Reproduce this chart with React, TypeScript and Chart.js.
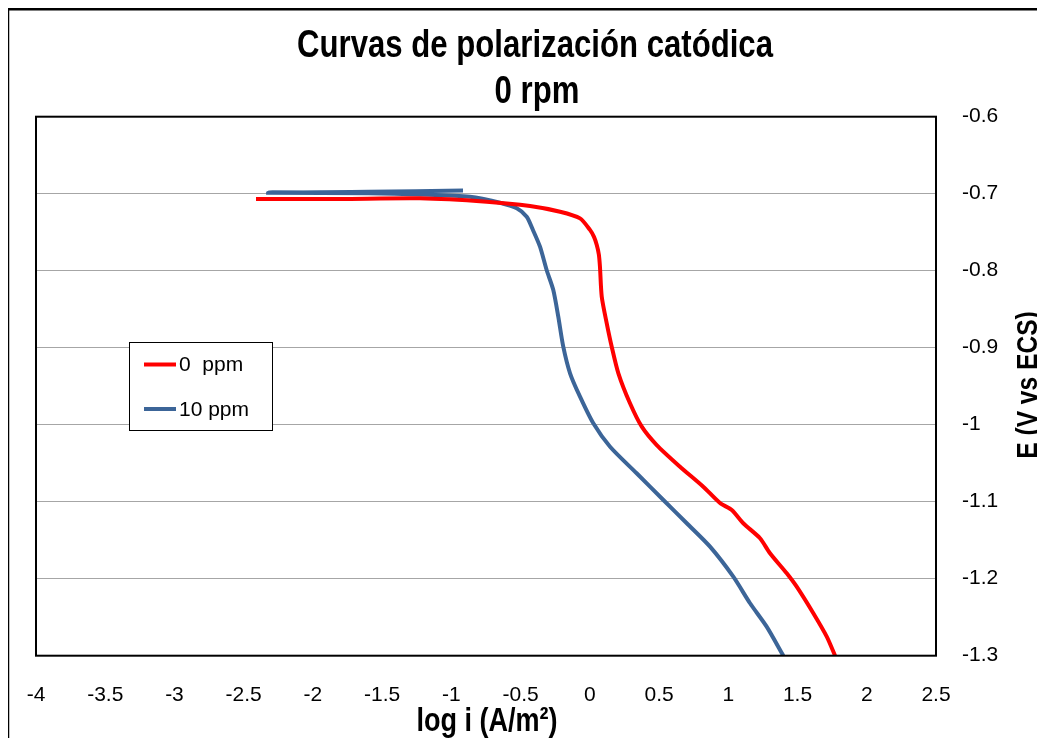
import React, { useEffect, useRef } from "react";
import { Chart, registerables } from "chart.js";

Chart.register(...registerables);

const chartTitle = ["Curvas de polarización catódica", "0 rpm"];
const xAxisTitle = "log i (A/m²)";
const yAxisTitle = "E (V vs ECS)";
const seriesLabels = ["0  ppm", "10 ppm"];
const seriesColors = ["#ff0000", "#3c6598"];

const xTickValues = [-4, -3.5, -3, -2.5, -2, -1.5, -1, -0.5, 0, 0.5, 1, 1.5, 2, 2.5];
const yTickValues = [-0.6, -0.7, -0.8, -0.9, -1, -1.1, -1.2, -1.3];

const ppm0LogI = [-2.411, -1.8, -1.227, -0.745, -0.432, -0.215, -0.071, 0.001, 0.03, 0.05, 0.065, 0.073, 0.086, 0.122, 0.158, 0.206, 0.29, 0.375, 0.483, 0.651, 0.819, 0.94, 1.025, 1.108, 1.229, 1.301, 1.422, 1.494, 1.614, 1.711, 1.771];
const ppm0E = [-0.7069, -0.7068, -0.706, -0.7104, -0.716, -0.7234, -0.732, -0.747, -0.756, -0.7666, -0.779, -0.7948, -0.8338, -0.8683, -0.8987, -0.9332, -0.9722, -1.0026, -1.0264, -1.0545, -1.0805, -1.1017, -1.1108, -1.128, -1.1475, -1.167, -1.193, -1.2104, -1.2449, -1.2753, -1.3];

const ppm10LogI = [-0.916, -1.6, -2.324, -1.6, -1.227, -0.866, -0.649, -0.528, -0.456, -0.411, -0.36, -0.312, -0.264, -0.228, -0.192, -0.143, -0.071, 0.025, 0.146, 0.338, 0.531, 0.7, 0.868, 1.036, 1.157, 1.277, 1.397];
const ppm10E = [-0.6958, -0.6975, -0.6987, -0.6995, -0.701, -0.7039, -0.7117, -0.719, -0.7299, -0.7471, -0.7688, -0.7991, -0.8251, -0.8597, -0.8987, -0.9332, -0.9636, -0.9982, -1.0286, -1.0631, -1.0978, -1.128, -1.1584, -1.1974, -1.2319, -1.2623, -1.3];

const fmt = (v: number) => String(Math.round(v * 10) / 10);

const TICK_FONT = '"Liberation Sans", Arial, sans-serif';
const TITLE_FONT = '"Liberation Sans Narrow", "Arial Narrow", "Liberation Sans", Arial, sans-serif';

const decorPlugin = {
  id: "decor",
  beforeDraw(chart: any) {
    const ctx = chart.ctx;
    ctx.save();
    ctx.fillStyle = "#ffffff";
    ctx.fillRect(0, 0, chart.width, chart.height);
    ctx.strokeStyle = "#000000";
    ctx.lineWidth = 2.5;
    ctx.strokeRect(0, 1.25, chart.width + 20, chart.height + 20);
    ctx.restore();
  },
  afterDatasetsDraw(chart: any) {
    const ctx = chart.ctx;
    const a = chart.chartArea;
    ctx.save();
    // plot border
    ctx.strokeStyle = "#000000";
    ctx.lineWidth = 2;
    ctx.strokeRect(a.left, a.top, a.right - a.left, a.bottom - a.top);

    // legend
    const lx = 121.5, ly = 334.5, lw = 143, lh = 88;
    ctx.fillStyle = "#ffffff";
    ctx.fillRect(lx, ly, lw, lh);
    ctx.strokeStyle = "#000000";
    ctx.lineWidth = 1;
    ctx.strokeRect(lx, ly, lw, lh);
    const rows = [356.5, 401];
    chart.data.datasets.forEach((ds: any, i: number) => {
      ctx.strokeStyle = ds.borderColor;
      ctx.lineWidth = 4;
      ctx.beginPath();
      ctx.moveTo(136, rows[i]);
      ctx.lineTo(168, rows[i]);
      ctx.stroke();
      ctx.fillStyle = "#000000";
      ctx.font = `21px ${TICK_FONT}`;
      ctx.textAlign = "left";
      ctx.textBaseline = "middle";
      ctx.fillText(ds.label, 171, rows[i] + 1);
    });

    // titles
    ctx.fillStyle = "#000000";
    ctx.font = `bold 38px ${TITLE_FONT}`;
    const w1 = ctx.measureText(chartTitle[0]).width;
    const k = 476 / w1;
    const drawText = (t: string, x: number, y: number, size: number, rot: number) => {
      ctx.save();
      ctx.translate(x, y);
      ctx.rotate(rot);
      ctx.scale(k, 1);
      ctx.font = `bold ${size}px ${TITLE_FONT}`;
      ctx.textAlign = "center";
      ctx.textBaseline = "alphabetic";
      ctx.fillText(t, 0, 0);
      ctx.restore();
    };
    drawText(chartTitle[0], 527, 48.7, 38, 0);
    drawText(chartTitle[1], 529, 95.3, 38, 0);
    drawText(xAxisTitle, 479, 723, 33, 0);
    drawText(yAxisTitle, 1029, 377, 30, -Math.PI / 2);
    ctx.restore();
  },
};

export default function App() {
  const ref = useRef<HTMLCanvasElement>(null);
  useEffect(() => {
    document.documentElement.style.overflow = "hidden";
    document.body.style.overflow = "hidden";
    const canvas = ref.current!;
    const chart = new Chart(canvas, {
      type: "line",
      data: {
        datasets: [
          {
            label: seriesLabels[0],
            data: ppm0LogI.map((x, i) => ({ x, y: ppm0E[i] })),
            borderColor: seriesColors[0],
            backgroundColor: seriesColors[0],
            borderWidth: 4,
            pointRadius: 0,
            tension: 0.25,
            fill: false,
          },
          {
            label: seriesLabels[1],
            data: ppm10LogI.map((x, i) => ({ x, y: ppm10E[i] })),
            borderColor: seriesColors[1],
            backgroundColor: seriesColors[1],
            borderWidth: 4,
            pointRadius: 0,
            tension: 0.25,
            fill: false,
          },
        ],
      },
      options: {
        animation: false,
        responsive: false,
        devicePixelRatio: 1,
        layout: { padding: { left: 28, top: 108.7, right: 0, bottom: 0 } },
        plugins: {
          legend: { display: false },
          title: { display: false },
          tooltip: { enabled: false },
        },
        scales: {
          x: {
            type: "linear",
            position: "bottom",
            min: -4,
            max: 2.5,
            afterBuildTicks: (s: any) => {
              s.ticks = xTickValues.map((value) => ({ value }));
            },
            afterFit: (s: any) => {
              s.height = 82.3;
              s.paddingLeft = 0;
              s.paddingRight = 0;
            },
            grid: { display: false, drawTicks: false },
            border: { display: false },
            ticks: {
              padding: 27,
              maxRotation: 0,
              autoSkip: false,
              color: "#000000",
              font: { family: TICK_FONT, size: 21 },
              callback: (v: any) => fmt(Number(v)),
            },
          },
          y: {
            type: "linear",
            position: "right",
            min: -1.3,
            max: -0.6,
            afterBuildTicks: (s: any) => {
              s.ticks = yTickValues.map((value) => ({ value }));
            },
            afterFit: (s: any) => {
              s.width = 109;
              s.paddingTop = 0;
              s.paddingBottom = 0;
            },
            grid: { display: true, drawTicks: false, color: "#a6a6a6", lineWidth: 1 },
            border: { display: false },
            ticks: {
              padding: 26,
              autoSkip: false,
              color: "#000000",
              font: { family: TICK_FONT, size: 21 },
              callback: (v: any) => fmt(Number(v)),
            },
          },
        },
      },
      plugins: [decorPlugin],
    } as any);
    return () => chart.destroy();
  }, []);
  return (
    <canvas
      ref={ref}
      width={1037}
      height={730}
      style={{ display: "block", width: 1037, height: 730 }}
    />
  );
}
